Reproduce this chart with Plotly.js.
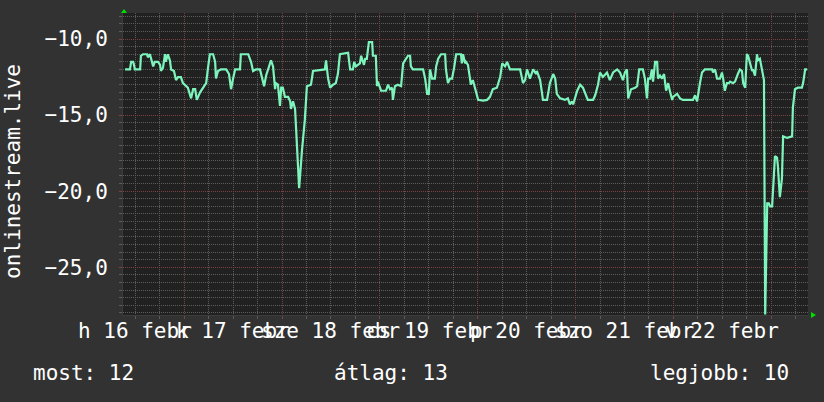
<!DOCTYPE html>
<html>
<head>
<meta charset="utf-8">
<script src="https://cdn.plot.ly/plotly-3.0.1.min.js"></script>
<style>
  html, body { margin: 0; padding: 0; background: #323232; }
  #chart { width: 824px; height: 402px; }
</style>
</head>
<body>
<div id="chart"></div>
<script>
// Time of each sample, in hours after 16 Feb 00:00
const hours = [
  9.5, 10.7, 11.0, 11.5, 11.7, 11.9, 13.2, 13.4, 13.9, 14.9, 15.1, 15.6, 15.9, 16.4, 16.8, 17.6,
  18.1, 18.3, 18.8, 19.3, 19.5, 20.0, 20.5, 20.8, 21.5, 22.0, 22.5, 23.2, 23.7, 24.2, 24.5, 24.9,
  25.7, 26.2, 26.7, 27.1, 27.9, 28.6, 29.4, 29.8, 30.3, 31.1, 31.6, 31.8, 32.3, 33.0, 34.3, 35.0,
  35.5, 36.0, 36.5, 37.7, 37.9, 39.7, 40.4, 40.9, 41.6, 42.6, 42.8, 43.6, 44.1, 44.6, 45.3, 45.8,
  46.3, 46.5, 47.0, 47.5, 47.8, 48.2, 48.7, 49.5, 50.0, 50.2, 50.7, 51.2, 51.7, 52.2, 52.9, 53.6,
  54.1, 55.1, 55.6, 58.5, 58.8, 59.3, 59.8, 60.5, 61.2, 61.7, 62.2, 63.4, 64.2, 64.7, 65.4, 65.7,
  66.1, 67.1, 67.4, 68.1, 68.4, 68.8, 69.3, 70.1, 70.3, 71.0, 71.3, 71.5, 72.0, 72.3, 73.5, 74.0,
  74.5, 75.0, 75.2, 75.7, 76.4, 77.2, 77.7, 78.2, 78.9, 79.4, 79.6, 80.1, 82.6, 83.1, 83.6, 84.0,
  84.3, 84.8, 85.5, 85.8, 86.3, 87.0, 88.0, 88.2, 88.7, 89.2, 89.7, 90.2, 90.7, 91.9, 92.1, 92.4,
  92.9, 93.1, 93.6, 94.1, 94.3, 94.8, 95.3, 96.1, 97.3, 98.3, 99.0, 99.7, 100.7, 101.5, 102.0, 102.7,
  103.2, 103.9, 106.4, 107.1, 107.6, 108.1, 108.8, 109.6, 110.3, 110.5, 111.3, 112.0, 113.0, 113.7, 114.5, 115.0,
  115.4, 116.2, 117.4, 118.1, 118.6, 119.1, 119.4, 120.4, 121.1, 121.8, 123.0, 124.3, 124.8, 125.5, 126.0, 126.7,
  127.7, 128.4, 129.2, 130.2, 130.9, 131.6, 132.1, 132.6, 132.9, 133.6, 134.6, 135.1, 135.6, 136.5, 137.0, 137.5,
  137.8, 138.3, 138.7, 139.0, 139.5, 140.0, 140.2, 140.7, 141.2, 141.7, 142.2, 142.7, 143.2, 143.7, 143.9, 144.9,
  145.6, 146.3, 148.8, 149.3, 149.8, 150.0, 150.5, 151.0, 151.7, 153.5, 153.7, 154.2, 154.7, 155.4, 155.9, 156.2,
  156.6, 157.1, 157.6, 157.9, 158.6, 159.1, 159.6, 159.8, 160.3, 160.8, 161.1, 161.6, 162.0, 162.3, 162.8, 163.3,
  163.5, 164.0, 164.5, 164.7, 165.2, 165.7, 166.2, 166.5, 167.0, 167.4, 167.7, 168.2, 168.4, 168.9, 169.4, 169.6,
  170.1, 170.6, 170.9, 171.9, 173.1, 173.3, 173.8, 174.5, 175.5, 175.8, 176.3, 176.8
];

// Measured value at each sample
const values = [
  -12.0, -12.0, -11.5, -11.5, -11.7, -12.0, -12.0, -11.1, -11.0, -11.0, -11.2, -11.0, -11.3, -11.8, -11.5, -11.5,
  -11.7, -12.1, -11.9, -11.0, -11.5, -11.0, -11.4, -12.0, -12.1, -12.7, -12.5, -12.5, -12.9, -13.0, -13.1, -13.2,
  -13.9, -13.3, -13.3, -14.0, -13.5, -13.2, -12.9, -12.0, -11.0, -11.0, -11.5, -12.6, -12.1, -12.0, -12.0, -12.3,
  -13.3, -12.6, -12.0, -12.0, -11.0, -11.0, -11.5, -12.1, -12.0, -12.0, -12.2, -13.1, -12.4, -12.0, -11.4, -11.8,
  -13.3, -12.9, -13.0, -14.4, -13.2, -13.2, -13.8, -13.8, -14.1, -14.6, -14.1, -14.6, -17.5, -19.8, -17.3, -15.3,
  -13.1, -13.0, -12.1, -12.0, -11.4, -12.6, -13.2, -13.0, -12.9, -12.3, -11.0, -10.95, -10.9, -12.0, -12.0, -11.5,
  -11.8, -11.6, -11.1, -11.7, -11.3, -11.3, -10.2, -10.2, -11.1, -11.1, -13.1, -12.8, -13.2, -13.4, -13.4, -13.0,
  -13.3, -13.2, -14.0, -13.1, -13.0, -13.1, -11.6, -11.4, -11.1, -11.1, -11.8, -12.0, -12.0, -12.6, -13.6, -13.6,
  -12.0, -12.6, -12.6, -11.8, -11.3, -11.0, -11.0, -12.0, -12.9, -12.6, -12.6, -11.9, -11.0, -11.0, -11.6, -11.0,
  -11.6, -11.5, -11.7, -12.6, -13.0, -12.7, -13.2, -14.0, -14.05, -14.0, -13.8, -13.3, -13.2, -12.5, -11.6, -11.8,
  -11.5, -12.0, -12.0, -12.9, -12.7, -12.0, -12.6, -12.0, -12.3, -12.1, -12.7, -14.0, -14.0, -12.9, -12.3, -12.6,
  -13.6, -13.9, -14.0, -13.9, -14.3, -14.1, -14.3, -13.4, -13.0, -13.2, -14.0, -14.0, -13.7, -13.0, -12.2, -12.5,
  -12.2, -12.7, -12.2, -12.0, -12.2, -12.7, -12.2, -12.0, -13.9, -13.3, -13.2, -13.1, -12.0, -12.0, -12.6, -13.9,
  -12.6, -12.6, -12.0, -12.8, -11.5, -11.5, -12.6, -12.4, -12.6, -12.3, -13.4, -12.9, -13.5, -14.0, -13.8, -13.6,
  -13.9, -14.0, -14.0, -13.7, -14.1, -13.7, -12.9, -12.2, -12.0, -12.0, -12.2, -12.0, -12.6, -12.6, -12.2, -12.6,
  -13.4, -12.9, -12.9, -12.8, -12.9, -12.8, -12.4, -12.3, -12.0, -12.1, -12.9, -13.2, -11.0, -11.1, -11.6, -12.1,
  -12.0, -12.4, -11.0, -11.4, -11.3, -12.0, -12.7, -28.1, -20.8, -20.8, -21.0, -21.0, -20.1, -17.7, -17.8, -18.3,
  -20.4, -19.2, -16.4, -16.5, -16.4, -14.5, -13.3, -13.2, -13.2, -12.9, -12.0, -12.0
];

// Day labels, centred on noon of each day
const dayLabels = ['h 16 febr', 'k 17 febr', 'sze 18 febr', 'cs 19 febr', 'p 20 febr', 'szo 21 febr', 'v 22 febr'];
const dayLabelHours = [12, 36, 60, 84, 108, 132, 156];

const yTickValues = [-10, -15, -20, -25];
const axisTitle = 'onlinestream.live';
const summaryLabels = ['most: 12', 'átlag: 13', 'legjobb: 10'];

const FONT = 'DejaVu Sans Mono, monospace';
const TEXT = '#ffffff';
const MINOR = '#5c5c5c';
const MAJOR = '#7a4343';

const trace = {
  type: 'scatter',
  mode: 'lines',
  x: hours,
  y: values,
  line: { color: '#7cf4bc', width: 2.2, shape: 'linear' },
  hoverinfo: 'skip'
};

const annotations = [];
dayLabels.forEach((t, i) => {
  annotations.push({
    text: t, x: dayLabelHours[i], xref: 'x', y: 0, yref: 'paper',
    xanchor: 'center', yanchor: 'middle', yshift: -16, showarrow: false,
    font: { family: FONT, size: 21, color: TEXT }
  });
});
annotations.push({
  text: axisTitle, textangle: -90, x: -0.1606, xref: 'paper', y: 0.477, yref: 'paper',
  xanchor: 'center', yanchor: 'middle', showarrow: false,
  font: { family: FONT, size: 21, color: TEXT }
});
const summaryX = [-0.1343, 0.3051, 0.7664];
summaryLabels.forEach((t, i) => {
  annotations.push({
    text: t, x: summaryX[i], xref: 'paper', y: 0, yref: 'paper',
    xanchor: 'left', yanchor: 'middle', yshift: -58, showarrow: false,
    font: { family: FONT, size: 21, color: TEXT }
  });
});

// Green arrow heads at the ends of the two axes
const shapes = [
  { type: 'path', xref: 'paper', yref: 'paper', xsizemode: 'pixel', ysizemode: 'pixel',
    xanchor: 0, yanchor: 1, path: 'M-2,0 L4,0 L1,4 Z',
    fillcolor: '#00e000', line: { width: 0 } },
  { type: 'path', xref: 'paper', yref: 'paper', xsizemode: 'pixel', ysizemode: 'pixel',
    xanchor: 1, yanchor: 0, path: 'M3,3 L8,0 L3,-3 Z',
    fillcolor: '#00e000', line: { width: 0 } }
];

const layout = {
  width: 824, height: 402,
  margin: { l: 123, r: 16, t: 13, b: 87, pad: 0 },
  paper_bgcolor: '#323232',
  plot_bgcolor: '#212121',
  separators: ', ',
  showlegend: false,
  xaxis: {
    range: [9, 177], tickmode: 'linear', tick0: 0, dtick: 24,
    showticklabels: false, showgrid: true, gridcolor: MAJOR, griddash: '1px,1px', gridwidth: 1,
    ticks: 'outside', ticklen: 3, tickcolor: MAJOR, zeroline: false,
    showline: true, linecolor: '#3c3c3c', linewidth: 1,
    minor: { tick0: 0, dtick: 6, showgrid: true, gridcolor: MINOR, griddash: '1px,1px', gridwidth: 1,
             ticks: 'outside', ticklen: 3, tickcolor: MINOR }
  },
  yaxis: {
    range: [-28.14, -8.29], tickmode: 'array', tickvals: yTickValues, tickformat: '.1f',
    showgrid: true, gridcolor: MAJOR, griddash: '1px,1px', gridwidth: 1,
    ticks: 'outside', ticklen: 3, tickcolor: MAJOR, zeroline: false,
    ticklabelstandoff: 7,
    showline: true, linecolor: '#3c3c3c', linewidth: 1,
    tickfont: { family: FONT, size: 21, color: TEXT },
    minor: { tick0: -10, dtick: 0.5, showgrid: true, gridcolor: MINOR, griddash: '1px,1px', gridwidth: 1,
             ticks: 'outside', ticklen: 3, tickcolor: MINOR }
  },
  annotations: annotations,
  shapes: shapes
};

Plotly.newPlot('chart', [trace], layout, { staticPlot: true, displayModeBar: false });
</script>
</body>
</html>
